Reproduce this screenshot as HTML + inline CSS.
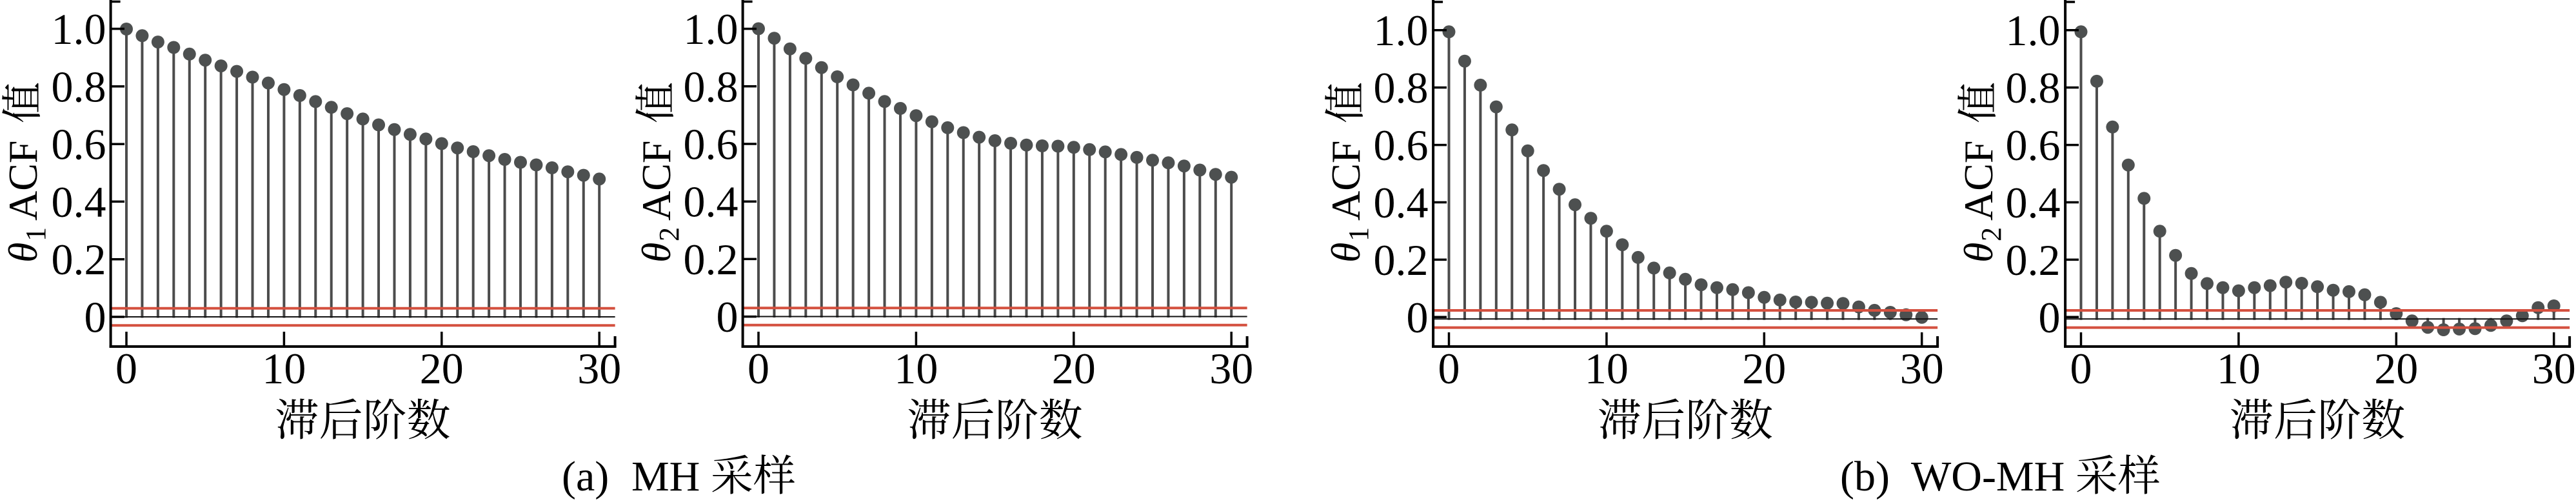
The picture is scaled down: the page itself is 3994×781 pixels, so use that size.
<!DOCTYPE html>
<html><head><meta charset="utf-8"><style>
html,body{margin:0;padding:0;background:#fff;overflow:hidden}
svg{display:block}
.t{font-family:"Liberation Serif","Noto Serif CJK SC",serif;font-size:68px;fill:#000}
.c{font-family:"Liberation Serif","Noto Serif CJK SC",serif}
.cjk{font-family:"Noto Serif CJK SC","Liberation Serif",serif}
.yl{font-family:"Liberation Serif","Noto Serif CJK SC",serif;font-size:64px}
</style></head><body>
<svg width="3994" height="781" viewBox="0 0 3994 781" xmlns="http://www.w3.org/2000/svg">
<rect width="3994" height="781" fill="#fff"/>

<!-- ================= PANEL 1 ================= -->
<g transform="translate(196,491)">
<path fill="none" stroke="#4c4c4c" stroke-width="4" d="M0 1.5V-446M24.44 1.5V-435.7M48.88 1.5V-425.9M73.32 1.5V-417.5M97.76 1.5V-407.2M122.2 1.5V-397.8M146.64 1.5V-388.9M171.08 1.5V-380.4M195.52 1.5V-371.5M219.96 1.5V-362.4M244.4 1.5V-352.3M268.84 1.5V-343M293.28 1.5V-333.6M317.72 1.5V-324.7M342.16 1.5V-314.9M366.6 1.5V-306.6M391.04 1.5V-297.5M415.48 1.5V-290.3M439.92 1.5V-282.8M464.36 1.5V-275.6M488.8 1.5V-268.5M513.24 1.5V-261.8M537.68 1.5V-256M562.12 1.5V-249.8M586.56 1.5V-244M611 1.5V-239.5M635.44 1.5V-235.5M659.88 1.5V-231M684.32 1.5V-224.8M708.76 1.5V-219.4M733.2 1.5V-213.6"/>
<g fill="#4d5050">
<circle cx="0" cy="-446" r="10"/><circle cx="24.44" cy="-435.7" r="10"/><circle cx="48.88" cy="-425.9" r="10"/><circle cx="73.32" cy="-417.5" r="10"/><circle cx="97.76" cy="-407.2" r="10"/><circle cx="122.2" cy="-397.8" r="10"/><circle cx="146.64" cy="-388.9" r="10"/><circle cx="171.08" cy="-380.4" r="10"/><circle cx="195.52" cy="-371.5" r="10"/><circle cx="219.96" cy="-362.4" r="10"/><circle cx="244.4" cy="-352.3" r="10"/><circle cx="268.84" cy="-343" r="10"/><circle cx="293.28" cy="-333.6" r="10"/><circle cx="317.72" cy="-324.7" r="10"/><circle cx="342.16" cy="-314.9" r="10"/><circle cx="366.6" cy="-306.6" r="10"/><circle cx="391.04" cy="-297.5" r="10"/><circle cx="415.48" cy="-290.3" r="10"/><circle cx="439.92" cy="-282.8" r="10"/><circle cx="464.36" cy="-275.6" r="10"/><circle cx="488.8" cy="-268.5" r="10"/><circle cx="513.24" cy="-261.8" r="10"/><circle cx="537.68" cy="-256" r="10"/><circle cx="562.12" cy="-249.8" r="10"/><circle cx="586.56" cy="-244" r="10"/><circle cx="611" cy="-239.5" r="10"/><circle cx="635.44" cy="-235.5" r="10"/><circle cx="659.88" cy="-231" r="10"/><circle cx="684.32" cy="-224.8" r="10"/><circle cx="708.76" cy="-219.4" r="10"/><circle cx="733.2" cy="-213.6" r="10"/>
</g>
<line x1="-24.44" y1="0" x2="757.64" y2="0" stroke="#111" stroke-width="2"/>
<line x1="-24.44" y1="-13.3" x2="757.64" y2="-13.3" stroke="#d4503f" stroke-width="4"/>
<line x1="-24.44" y1="13.3" x2="757.64" y2="13.3" stroke="#d4503f" stroke-width="4"/>
</g>
<g stroke="#000" fill="none">
<line x1="171.6" y1="0" x2="171.6" y2="539" stroke-width="4"/>
<line x1="169.6" y1="537" x2="955.6" y2="537" stroke-width="4"/>
<line x1="171.6" y1="2.5" x2="186.6" y2="2.5" stroke-width="3.5"/>
<line x1="953.6" y1="537" x2="953.6" y2="521" stroke-width="4"/>
<path stroke-width="3.5" d="M171.6 491H193M171.6 401.7H193M171.6 312.4H193M171.6 223.2H193M171.6 133.9H193M171.6 44.6H193M196 537V514M440.4 537V514M684.8 537V514M929.2 537V514"/>
</g>
<g class="t" text-anchor="end">
<text x="164.5" y="514.5">0</text><text x="164.5" y="425.2">0.2</text><text x="164.5" y="335.9">0.4</text><text x="164.5" y="246.7">0.6</text><text x="164.5" y="157.4">0.8</text><text x="164.5" y="68.1">1.0</text>
</g>
<g class="t" text-anchor="middle">
<text x="196" y="594">0</text><text x="440.4" y="594">10</text><text x="684.8" y="594">20</text><text x="929.2" y="594">30</text>
</g>
<text class="cjk" x="562.6" y="675" font-size="68" text-anchor="middle">滞后阶数</text>
<g class="yl" transform="translate(57,0) rotate(-90)">
<text x="-407" y="0" font-style="italic">θ</text>
<text x="-374" y="13" font-size="44">1</text>
<text x="-342" y="0">ACF</text>
<text class="cjk" x="-191" y="0">值</text>
</g>

<!-- ================= PANEL 2 ================= -->
<g transform="translate(1176,490.5)">
<path fill="none" stroke="#4c4c4c" stroke-width="4" d="M0 1.5V-446M24.44 1.5V-431.3M48.88 1.5V-414.8M73.32 1.5V-400.1M97.76 1.5V-385.8M122.2 1.5V-371.5M146.64 1.5V-359M171.08 1.5V-346.1M195.52 1.5V-333.2M219.96 1.5V-322.5M244.4 1.5V-311.3M268.84 1.5V-301.9M293.28 1.5V-292.6M317.72 1.5V-285M342.16 1.5V-277.9M366.6 1.5V-272.5M391.04 1.5V-268.5M415.48 1.5V-265.8M439.92 1.5V-264.5M464.36 1.5V-264M488.8 1.5V-262.2M513.24 1.5V-258.7M537.68 1.5V-255.1M562.12 1.5V-251.1M586.56 1.5V-246.6M611 1.5V-242.2M635.44 1.5V-238.2M659.88 1.5V-233.3M684.32 1.5V-227M708.76 1.5V-220.3M733.2 1.5V-215.9"/>
<g fill="#4d5050">
<circle cx="0" cy="-446" r="10"/><circle cx="24.44" cy="-431.3" r="10"/><circle cx="48.88" cy="-414.8" r="10"/><circle cx="73.32" cy="-400.1" r="10"/><circle cx="97.76" cy="-385.8" r="10"/><circle cx="122.2" cy="-371.5" r="10"/><circle cx="146.64" cy="-359" r="10"/><circle cx="171.08" cy="-346.1" r="10"/><circle cx="195.52" cy="-333.2" r="10"/><circle cx="219.96" cy="-322.5" r="10"/><circle cx="244.4" cy="-311.3" r="10"/><circle cx="268.84" cy="-301.9" r="10"/><circle cx="293.28" cy="-292.6" r="10"/><circle cx="317.72" cy="-285" r="10"/><circle cx="342.16" cy="-277.9" r="10"/><circle cx="366.6" cy="-272.5" r="10"/><circle cx="391.04" cy="-268.5" r="10"/><circle cx="415.48" cy="-265.8" r="10"/><circle cx="439.92" cy="-264.5" r="10"/><circle cx="464.36" cy="-264" r="10"/><circle cx="488.8" cy="-262.2" r="10"/><circle cx="513.24" cy="-258.7" r="10"/><circle cx="537.68" cy="-255.1" r="10"/><circle cx="562.12" cy="-251.1" r="10"/><circle cx="586.56" cy="-246.6" r="10"/><circle cx="611" cy="-242.2" r="10"/><circle cx="635.44" cy="-238.2" r="10"/><circle cx="659.88" cy="-233.3" r="10"/><circle cx="684.32" cy="-227" r="10"/><circle cx="708.76" cy="-220.3" r="10"/><circle cx="733.2" cy="-215.9" r="10"/>
</g>
<line x1="-24.44" y1="0" x2="757.64" y2="0" stroke="#111" stroke-width="2"/>
<line x1="-24.44" y1="-13.3" x2="757.64" y2="-13.3" stroke="#d4503f" stroke-width="4"/>
<line x1="-24.44" y1="13.3" x2="757.64" y2="13.3" stroke="#d4503f" stroke-width="4"/>
</g>
<g stroke="#000" fill="none">
<line x1="1151.6" y1="0" x2="1151.6" y2="539" stroke-width="4"/>
<line x1="1149.6" y1="537" x2="1935.6" y2="537" stroke-width="4"/>
<line x1="1151.6" y1="2.5" x2="1166.6" y2="2.5" stroke-width="3.5"/>
<line x1="1933.6" y1="537" x2="1933.6" y2="521" stroke-width="4"/>
<path stroke-width="3.5" d="M1151.6 490.6H1173M1151.6 401.4H1173M1151.6 312.2H1173M1151.6 223H1173M1151.6 133.8H1173M1151.6 44.6H1173M1176 537V514M1420.4 537V514M1664.8 537V514M1909.2 537V514"/>
</g>
<g class="t" text-anchor="end">
<text x="1144.5" y="514.1">0</text><text x="1144.5" y="424.9">0.2</text><text x="1144.5" y="335.7">0.4</text><text x="1144.5" y="246.5">0.6</text><text x="1144.5" y="157.3">0.8</text><text x="1144.5" y="68.1">1.0</text>
</g>
<g class="t" text-anchor="middle">
<text x="1176" y="594">0</text><text x="1420.4" y="594">10</text><text x="1664.8" y="594">20</text><text x="1909.2" y="594">30</text>
</g>
<text class="cjk" x="1542.6" y="675" font-size="68" text-anchor="middle">滞后阶数</text>
<g class="yl" transform="translate(1039,0) rotate(-90)">
<text x="-407" y="0" font-style="italic">θ</text>
<text x="-374" y="13" font-size="44">2</text>
<text x="-342" y="0">ACF</text>
<text class="cjk" x="-191" y="0">值</text>
</g>

<!-- ================= PANEL 3 ================= -->
<g transform="translate(2246.5,494.3)">
<path fill="none" stroke="#4c4c4c" stroke-width="4" d="M0 1.5V-445M24.44 1.5V-399.6M48.88 1.5V-362.4M73.32 1.5V-328.7M97.76 1.5V-293M122.2 1.5V-260.5M146.64 1.5V-230.1M171.08 1.5V-201.1M195.52 1.5V-177.1M219.96 1.5V-156.1M244.4 1.5V-136M268.84 1.5V-115.1M293.28 1.5V-95.4M317.72 1.5V-78.9M342.16 1.5V-71.4M366.6 1.5V-61.5M391.04 1.5V-53.1M415.48 1.5V-48.6M439.92 1.5V-45.5M464.36 1.5V-40.8M488.8 1.5V-33.5M513.24 1.5V-29.4M537.68 1.5V-26.3M562.12 1.5V-25.9M586.56 1.5V-24.5M611 1.5V-24.1M635.44 1.5V-18.7M659.88 1.5V-13.4M684.32 1.5V-10.3M708.76 1.5V-6.5M733.2 1.5V-2.5"/>
<g fill="#4d5050">
<circle cx="0" cy="-445" r="10"/><circle cx="24.44" cy="-399.6" r="10"/><circle cx="48.88" cy="-362.4" r="10"/><circle cx="73.32" cy="-328.7" r="10"/><circle cx="97.76" cy="-293" r="10"/><circle cx="122.2" cy="-260.5" r="10"/><circle cx="146.64" cy="-230.1" r="10"/><circle cx="171.08" cy="-201.1" r="10"/><circle cx="195.52" cy="-177.1" r="10"/><circle cx="219.96" cy="-156.1" r="10"/><circle cx="244.4" cy="-136" r="10"/><circle cx="268.84" cy="-115.1" r="10"/><circle cx="293.28" cy="-95.4" r="10"/><circle cx="317.72" cy="-78.9" r="10"/><circle cx="342.16" cy="-71.4" r="10"/><circle cx="366.6" cy="-61.5" r="10"/><circle cx="391.04" cy="-53.1" r="10"/><circle cx="415.48" cy="-48.6" r="10"/><circle cx="439.92" cy="-45.5" r="10"/><circle cx="464.36" cy="-40.8" r="10"/><circle cx="488.8" cy="-33.5" r="10"/><circle cx="513.24" cy="-29.4" r="10"/><circle cx="537.68" cy="-26.3" r="10"/><circle cx="562.12" cy="-25.9" r="10"/><circle cx="586.56" cy="-24.5" r="10"/><circle cx="611" cy="-24.1" r="10"/><circle cx="635.44" cy="-18.7" r="10"/><circle cx="659.88" cy="-13.4" r="10"/><circle cx="684.32" cy="-10.3" r="10"/><circle cx="708.76" cy="-6.5" r="10"/><circle cx="733.2" cy="-2.5" r="10"/>
</g>
<line x1="-24.44" y1="0" x2="757.64" y2="0" stroke="#111" stroke-width="2"/>
<line x1="-24.44" y1="-13.3" x2="757.64" y2="-13.3" stroke="#d4503f" stroke-width="4"/>
<line x1="-24.44" y1="13.3" x2="757.64" y2="13.3" stroke="#d4503f" stroke-width="4"/>
</g>
<g stroke="#000" fill="none">
<line x1="2222.1" y1="0" x2="2222.1" y2="539" stroke-width="4"/>
<line x1="2220.1" y1="537" x2="3006.1" y2="537" stroke-width="4"/>
<line x1="2222.1" y1="3" x2="2237.1" y2="3" stroke-width="3.5"/>
<line x1="3004.1" y1="537" x2="3004.1" y2="521" stroke-width="4"/>
<path stroke-width="3.5" d="M2222.1 491.3H2243M2222.1 402.4H2243M2222.1 313.5H2243M2222.1 224.6H2243M2222.1 135.6H2243M2222.1 46.7H2243M2246.5 537V515M2490.9 537V515M2735.3 537V515M2979.7 537V515"/>
</g>
<g class="t" text-anchor="end">
<text x="2214.5" y="514.8">0</text><text x="2214.5" y="425.9">0.2</text><text x="2214.5" y="337">0.4</text><text x="2214.5" y="248.1">0.6</text><text x="2214.5" y="159.1">0.8</text><text x="2214.5" y="70.2">1.0</text>
</g>
<g class="t" text-anchor="middle">
<text x="2246.5" y="594">0</text><text x="2490.9" y="594">10</text><text x="2735.3" y="594">20</text><text x="2979.7" y="594">30</text>
</g>
<text class="cjk" x="2613.1" y="675" font-size="68" text-anchor="middle">滞后阶数</text>
<g class="yl" transform="translate(2108,0) rotate(-90)">
<text x="-407" y="0" font-style="italic">θ</text>
<text x="-374" y="13" font-size="44">1</text>
<text x="-342" y="0">ACF</text>
<text class="cjk" x="-191" y="0">值</text>
</g>

<!-- ================= PANEL 4 ================= -->
<g transform="translate(3226.5,494.3)">
<path fill="none" stroke="#4c4c4c" stroke-width="4" d="M0 1.5V-445M24.44 1.5V-368.4M48.88 1.5V-297.5M73.32 1.5V-238.6M97.76 1.5V-186.9M122.2 1.5V-136M146.64 1.5V-98.6M171.08 1.5V-70.5M195.52 1.5V-54.9M219.96 1.5V-48.6M244.4 1.5V-43.7M268.84 1.5V-48.6M293.28 1.5V-51.7M317.72 1.5V-57.1M342.16 1.5V-55.3M366.6 1.5V-50M391.04 1.5V-44.6M415.48 1.5V-42.4M439.92 1.5V-37.5M464.36 1.5V-25.9M488.8 1.5V-8.3M513.24 -1.5V3M537.68 -1.5V12.9M562.12 -1.5V16.7M586.56 -1.5V15.6M611 -1.5V15M635.44 -1.5V10M659.88 -1.5V3M684.32 1.5V-5M708.76 1.5V-17.6M733.2 1.5V-20.3"/>
<g fill="#4d5050">
<circle cx="0" cy="-445" r="10"/><circle cx="24.44" cy="-368.4" r="10"/><circle cx="48.88" cy="-297.5" r="10"/><circle cx="73.32" cy="-238.6" r="10"/><circle cx="97.76" cy="-186.9" r="10"/><circle cx="122.2" cy="-136" r="10"/><circle cx="146.64" cy="-98.6" r="10"/><circle cx="171.08" cy="-70.5" r="10"/><circle cx="195.52" cy="-54.9" r="10"/><circle cx="219.96" cy="-48.6" r="10"/><circle cx="244.4" cy="-43.7" r="10"/><circle cx="268.84" cy="-48.6" r="10"/><circle cx="293.28" cy="-51.7" r="10"/><circle cx="317.72" cy="-57.1" r="10"/><circle cx="342.16" cy="-55.3" r="10"/><circle cx="366.6" cy="-50" r="10"/><circle cx="391.04" cy="-44.6" r="10"/><circle cx="415.48" cy="-42.4" r="10"/><circle cx="439.92" cy="-37.5" r="10"/><circle cx="464.36" cy="-25.9" r="10"/><circle cx="488.8" cy="-8.3" r="10"/><circle cx="513.24" cy="3" r="10"/><circle cx="537.68" cy="12.9" r="10"/><circle cx="562.12" cy="16.7" r="10"/><circle cx="586.56" cy="15.6" r="10"/><circle cx="611" cy="15" r="10"/><circle cx="635.44" cy="10" r="10"/><circle cx="659.88" cy="3" r="10"/><circle cx="684.32" cy="-5" r="10"/><circle cx="708.76" cy="-17.6" r="10"/><circle cx="733.2" cy="-20.3" r="10"/>
</g>
<line x1="-24.44" y1="0" x2="757.64" y2="0" stroke="#111" stroke-width="2"/>
<line x1="-24.44" y1="-13.3" x2="757.64" y2="-13.3" stroke="#d4503f" stroke-width="4"/>
<line x1="-24.44" y1="13.3" x2="757.64" y2="13.3" stroke="#d4503f" stroke-width="4"/>
</g>
<g stroke="#000" fill="none">
<line x1="3202.1" y1="0" x2="3202.1" y2="539" stroke-width="4"/>
<line x1="3200.1" y1="537" x2="3986.1" y2="537" stroke-width="4"/>
<line x1="3202.1" y1="3" x2="3217.1" y2="3" stroke-width="3.5"/>
<line x1="3984.1" y1="537" x2="3984.1" y2="521" stroke-width="4"/>
<path stroke-width="3.5" d="M3202.1 491.3H3223M3202.1 402.4H3223M3202.1 313.5H3223M3202.1 224.6H3223M3202.1 135.6H3223M3202.1 46.7H3223M3226.5 537V515M3470.9 537V515M3715.3 537V515M3959.7 537V515"/>
</g>
<g class="t" text-anchor="end">
<text x="3194.5" y="514.8">0</text><text x="3194.5" y="425.9">0.2</text><text x="3194.5" y="337">0.4</text><text x="3194.5" y="248.1">0.6</text><text x="3194.5" y="159.1">0.8</text><text x="3194.5" y="70.2">1.0</text>
</g>
<g class="t" text-anchor="middle">
<text x="3226.5" y="594">0</text><text x="3470.9" y="594">10</text><text x="3715.3" y="594">20</text><text x="3959.7" y="594">30</text>
</g>
<text class="cjk" x="3593.1" y="675" font-size="68" text-anchor="middle">滞后阶数</text>
<g class="yl" transform="translate(3089,0) rotate(-90)">
<text x="-407" y="0" font-style="italic">θ</text>
<text x="-374" y="13" font-size="44">2</text>
<text x="-342" y="0">ACF</text>
<text class="cjk" x="-191" y="0">值</text>
</g>

<!-- ================= CAPTIONS ================= -->
<text class="c" x="871" y="760" font-size="66">(a)</text>
<text class="c" x="979" y="760" font-size="66">MH <tspan class="cjk">采样</tspan></text>
<text class="c" x="2853" y="760" font-size="66">(b)</text>
<text class="c" x="2963" y="760" font-size="66">WO-MH <tspan class="cjk">采样</tspan></text>
</svg>
</body></html>
